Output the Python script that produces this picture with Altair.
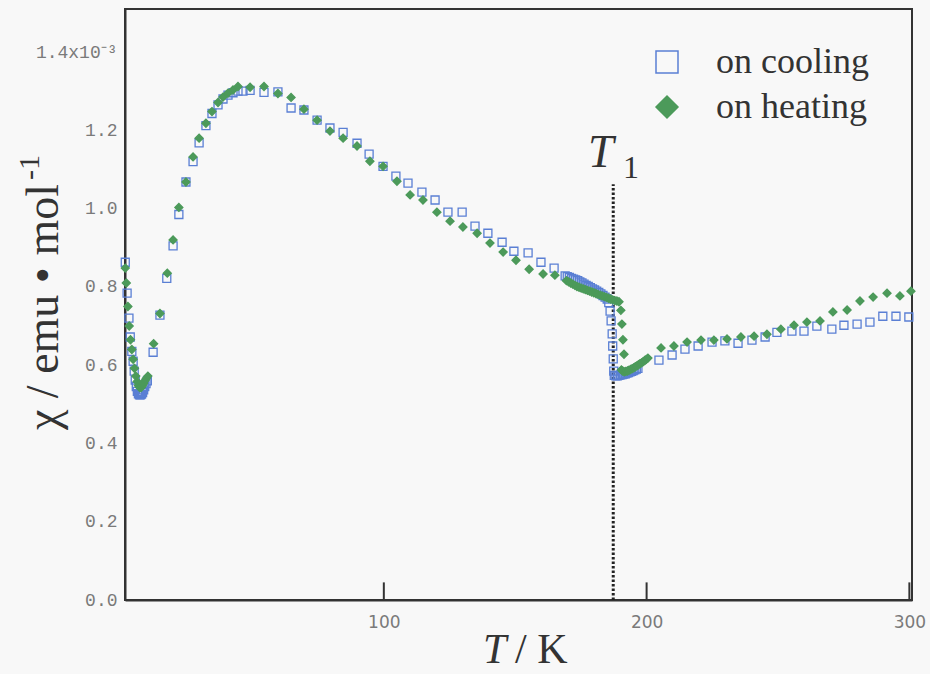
import altair as alt
import pandas as pd

# ---- data (chi in units of 1e-3 emu/mol) ----
cool_T = [1.6, 2.3, 3.0, 3.5, 4.1, 4.6, 5.0, 5.4, 5.8, 6.2, 6.6, 7.0, 7.4, 7.8, 8.2, 8.6, 9.0, 9.5, 10.0,
          12.2, 14.8, 17.4, 19.8, 22.0, 24.7, 27.4, 29.7, 32.3, 34.6, 36.9, 38.8, 40.7, 42.6, 44.5, 46.4,
          49.1, 54.4, 59.7, 64.7, 69.6, 74.6, 79.5, 84.5, 89.8, 94.4, 99.7, 104.6, 109.2, 114.5, 119.5,
          124.4, 129.8, 134.7, 139.6, 145.0, 149.5, 154.9, 159.8, 164.8,
          169.0, 169.8, 170.6, 171.4, 172.2, 173.0, 173.8, 174.6, 175.4, 176.2, 177.0, 177.8, 178.6,
          179.4, 180.2, 181.0, 181.8, 182.6, 183.4, 184.2, 185.0, 185.6, 186.1, 186.5, 186.9, 187.1,
          187.3, 187.5,
          187.7, 188.3, 188.9, 189.5, 190.1, 190.7, 191.3, 191.9, 192.5, 193.1, 193.7, 194.3, 194.9,
          195.5, 196.1, 196.7,
          204.7, 209.7, 214.6, 219.6, 224.9, 229.8, 234.8, 240.1, 245.1, 249.6, 255.3, 259.9, 264.8,
          270.5, 275.1, 280.1, 285.0, 289.9, 294.9, 299.8]
cool_chi = [0.863, 0.784, 0.720, 0.672, 0.635, 0.610, 0.585, 0.562, 0.545, 0.533, 0.527, 0.524, 0.524,
            0.526, 0.530, 0.537, 0.545, 0.553, 0.560,
            0.633, 0.728, 0.822, 0.905, 0.985, 1.068, 1.120, 1.168, 1.212, 1.243, 1.265, 1.280, 1.290,
            1.296, 1.300, 1.300, 1.302, 1.297, 1.298, 1.257, 1.252, 1.226, 1.206, 1.195, 1.167, 1.139,
            1.108, 1.083, 1.065, 1.042, 1.022, 0.991, 0.991, 0.955, 0.937, 0.914, 0.891, 0.887, 0.863,
            0.848,
            0.828, 0.826, 0.824, 0.822, 0.820, 0.818, 0.816, 0.813, 0.810, 0.807, 0.804, 0.801, 0.798,
            0.795, 0.792, 0.789, 0.786, 0.782, 0.778, 0.774, 0.769, 0.760, 0.738, 0.713, 0.680, 0.649,
            0.616, 0.585,
            0.574, 0.573, 0.573, 0.574, 0.575, 0.576, 0.577, 0.578, 0.580, 0.581, 0.583, 0.584, 0.586,
            0.588, 0.590, 0.592,
            0.613, 0.626, 0.641, 0.649, 0.659, 0.662, 0.656, 0.664, 0.672, 0.684, 0.687, 0.687, 0.700,
            0.692, 0.702, 0.705, 0.710, 0.725, 0.725, 0.723]

heat_T = [1.6, 2.0, 2.6, 3.1, 3.6, 4.1, 4.6, 5.1, 5.6, 6.1, 6.6, 7.1, 7.6, 8.1, 8.6, 9.1, 9.6, 10.2,
          12.4, 14.8, 17.6, 19.8, 22.0, 24.7, 27.4, 29.7, 32.3, 34.6, 36.9, 38.8, 40.7, 42.6, 44.5,
          49.1, 54.4, 59.7, 64.7, 69.6, 74.6, 79.5, 84.5, 89.8, 94.7, 99.7, 105.0, 110.0, 114.9, 120.2,
          125.2, 130.1, 135.5, 140.4, 145.4, 150.3, 155.3, 160.6, 165.1,
          169.5, 170.3, 171.1, 171.9, 172.7, 173.5, 174.3, 175.1, 175.9, 176.7, 177.5, 178.3, 179.1,
          179.9, 180.7, 181.5, 182.3, 183.1, 183.9, 184.7, 185.5, 186.3, 187.1, 187.9, 188.7, 189.5,
          190.2, 190.6, 191.0, 191.4,
          190.4, 190.9, 191.5, 192.1, 192.7, 193.3, 193.9, 194.5, 195.1, 195.7, 196.3, 196.9, 197.5,
          198.1, 198.7, 199.3, 199.9, 200.5,
          205.5, 210.4, 215.4, 220.7, 225.6, 230.6, 235.9, 240.9, 245.8, 251.1, 256.1, 261.0, 266.0,
          270.9, 276.3, 281.2, 286.2, 291.5, 296.4, 300.6]
heat_chi = [0.848, 0.810, 0.750, 0.700, 0.665, 0.640, 0.615, 0.592, 0.572, 0.558, 0.548, 0.543, 0.543,
            0.547, 0.553, 0.560, 0.566, 0.572,
            0.655, 0.732, 0.835, 0.920, 1.003, 1.068, 1.132, 1.180, 1.218, 1.248, 1.271, 1.285, 1.295,
            1.303, 1.312, 1.310, 1.312, 1.294, 1.284, 1.254, 1.226, 1.198, 1.180, 1.160, 1.121, 1.108,
            1.070, 1.035, 1.022, 0.991, 0.968, 0.953, 0.937, 0.912, 0.889, 0.868, 0.845, 0.833, 0.830,
            0.816, 0.813, 0.810, 0.807, 0.804, 0.801, 0.799, 0.797, 0.795, 0.793, 0.791, 0.789, 0.787,
            0.785, 0.783, 0.781, 0.779, 0.777, 0.775, 0.773, 0.771, 0.769, 0.767, 0.765, 0.764, 0.762,
            0.740, 0.705, 0.665, 0.628,
            0.588, 0.585, 0.583, 0.584, 0.585, 0.587, 0.589, 0.591, 0.593, 0.596, 0.598, 0.601, 0.604,
            0.606, 0.609, 0.612, 0.615, 0.618,
            0.644, 0.649, 0.659, 0.664, 0.664, 0.667, 0.672, 0.674, 0.679, 0.692, 0.702, 0.710, 0.713,
            0.736, 0.741, 0.764, 0.774, 0.784, 0.777, 0.789]

series_names = ["on cooling", "on heating"]
x_ticks = [100, 200, 300]
y_ticks = [0.0, 0.2, 0.4, 0.6, 0.8, 1.0, 1.2, 1.4]
tick_len = [0.045]
T1_pos = [187.3]
T1_top = [1.062]

BLUE = "#5a7fd4"
GREEN = "#4c9a5a"
INK = "#333333"

df = pd.DataFrame({
    "T": cool_T + heat_T,
    "chi": cool_chi + heat_chi,
    "series": [series_names[0]] * len(cool_T) + [series_names[1]] * len(heat_T),
})
df["order"] = range(len(df))

xscale = alt.Scale(domain=[1.5, 301], nice=False, zero=False)
yscale = alt.Scale(domain=[0, 1.51], nice=False, zero=False)

leg = alt.Legend(orient="none", legendX=524, legendY=35, title=None, symbolSize=484,
                 symbolStrokeWidth=1.5, labelFont="Liberation Serif", labelFontSize=36,
                 labelColor=INK, rowPadding=9, labelOffset=31, padding=0)

points = alt.Chart(df).mark_point(filled=True, size=64, strokeWidth=1.3, opacity=1).encode(
    x=alt.X("T:Q", scale=xscale,
            axis=alt.Axis(values=x_ticks, title=None, ticks=False, grid=False, labelPadding=14,
                          labelFont="DejaVu Sans", labelFontSize=17, labelColor="#7a7a7a",
                          domainColor=INK, domainWidth=2)),
    y=alt.Y("chi:Q", scale=yscale,
            axis=alt.Axis(values=y_ticks, title=None, ticks=False, grid=False, labelPadding=8,
                          labelFont="Liberation Mono", labelFontSize=18, labelColor="#7a7a7a",
                          domainColor=INK, domainWidth=2,
                          labelExpr="datum.value == 1.4 ? '1.4x10⁻³' : format(datum.value, '.1f')")),
    shape=alt.Shape("series:N", scale=alt.Scale(domain=series_names, range=["square", "diamond"]), legend=leg),
    fill=alt.Fill("series:N", scale=alt.Scale(domain=series_names, range=["transparent", GREEN]), legend=leg),
    stroke=alt.Stroke("series:N", scale=alt.Scale(domain=series_names, range=[BLUE, GREEN]), legend=leg),
    order="order:Q",
)

ticks_df = pd.DataFrame({"T": x_ticks, "y0": [0.0] * 3, "y1": tick_len * 3})
ticks = alt.Chart(ticks_df).mark_rule(color=INK, strokeWidth=2).encode(
    x=alt.X("T:Q", scale=xscale), y=alt.Y("y0:Q", scale=yscale), y2="y1:Q")

t1_df = pd.DataFrame({"T": T1_pos, "y0": [0.0], "top": T1_top})
t1_line = alt.Chart(t1_df).mark_rule(
    color="#222222", strokeWidth=3, strokeDash=[2.5, 2]).encode(
    x=alt.X("T:Q", scale=xscale), y=alt.Y("y0:Q", scale=yscale), y2="top:Q")


def label(txt, x, y, size, style="normal", angle=0, align="left"):
    return alt.Chart(pd.DataFrame({"t": [txt]})).mark_text(
        font="Liberation Serif", fontSize=size, fontStyle=style, color=INK, align=align,
        baseline="alphabetic", angle=angle).encode(
        text="t:N", x=alt.value(x), y=alt.value(y))


y_title = label("χ / emu • mol", -67, 175, 46, angle=270, align="right")
y_title_sup = label("-1", -86, 171, 30, angle=270, align="left")
x_title_T = label("T", 358, 654, 42, style="italic")
x_title_K = label("/ K", 390, 654, 42)
t1_T = label("T", 463, 158, 46, style="italic")
t1_1 = label("1", 498, 169, 32)

chart = alt.layer(t1_line, ticks, points, y_title, y_title_sup, x_title_T, x_title_K,
                  t1_T, t1_1).properties(
    width=787, height=591, autosize="none",
    padding={"left": 125, "top": 9, "right": 18, "bottom": 74},
    background="#f8f8f8",
).configure_view(stroke=INK, strokeWidth=2)

chart.save("out.html", embed_options={"renderer": "svg", "actions": False})
